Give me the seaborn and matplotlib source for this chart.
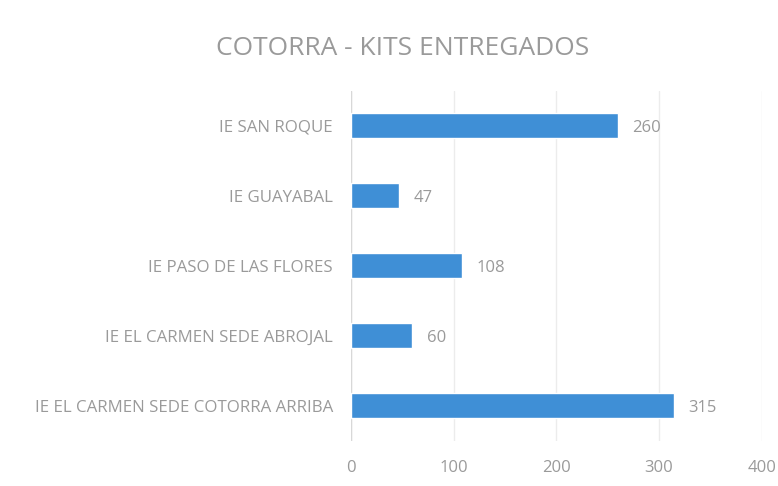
import numpy as np
import pandas as pd
import matplotlib
matplotlib.use('Agg')
import matplotlib.pyplot as plt
import seaborn as sns

# Data
escuelas = ['IE SAN ROQUE', 'IE GUAYABAL', 'IE PASO DE LAS FLORES',
            'IE EL CARMEN SEDE ABROJAL', 'IE EL CARMEN SEDE COTORRA ARRIBA']
kits = [260, 47, 108, 60, 315]
x_ticks = [0, 100, 200, 300, 400]

df = pd.DataFrame({'escuela': escuelas, 'kits': kits})

sns.set_style('white')
plt.rcParams['font.family'] = ['Open Sans', 'DejaVu Sans']

gris = '#9a9a9a'
fig = plt.figure(figsize=(7.78, 4.86), dpi=100)
ax = fig.add_axes([0.451, 0.093, 0.528, 0.72])

sns.barplot(data=df, x='kits', y='escuela', color='#3f8fd6', saturation=1,
            width=0.36, ax=ax, zorder=3)

# value labels
for i, v in enumerate(kits):
    ax.text(v + 14, i + 0.03, str(v), va='center', ha='left', fontsize=12, color=gris)

ax.set_xlim(0, 400)
ax.set_xticks(x_ticks)
ax.set_xticklabels([str(t) for t in x_ticks], fontsize=12, color=gris)
ax.tick_params(axis='y', labelsize=12.2, labelcolor=gris, length=0, pad=13)
ax.tick_params(axis='x', length=0, pad=14)
ax.grid(axis='x', color='#ececec', linewidth=1, zorder=0)
for s in ax.spines.values():
    s.set_visible(False)
ax.axvline(0, color='#d8d8d8', linewidth=1, zorder=1)
ax.set_xlabel('')
ax.set_ylabel('')

fig.suptitle('COTORRA - KITS ENTREGADOS', x=0.517, y=0.925, fontsize=19, color=gris)

fig.savefig('out.png', dpi=100, facecolor='white')
